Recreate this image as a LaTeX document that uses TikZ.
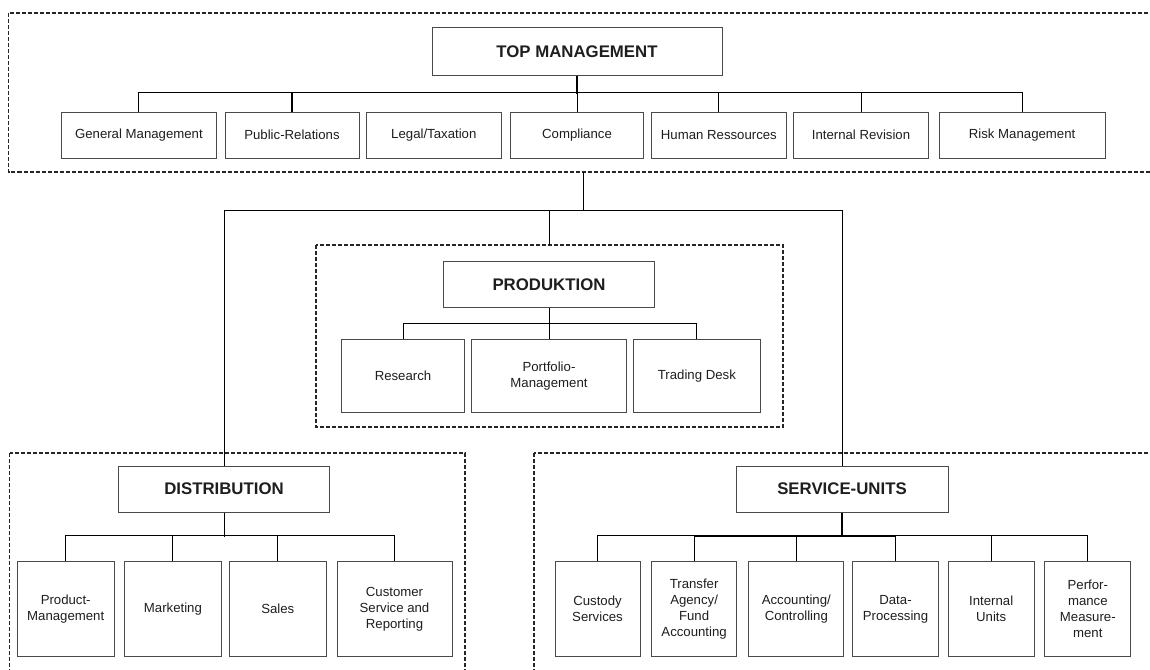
\documentclass[tikz,border=0pt]{standalone}
\usepackage{fontspec}
\setmainfont{Liberation Sans}
\newcommand{\depttext}{\fontsize{13.2}{16}\selectfont}
\newcommand{\deptbold}{\bfseries\fontsize{16.8}{20}\selectfont}
\definecolor{boxline}{HTML}{4A4A4A}
\definecolor{txtgray}{HTML}{1E1E1E}

\begin{document}
\begin{tikzpicture}[x=1pt,y=-1pt,
    dept/.style={draw=boxline,line width=1pt,inner sep=0pt,align=center,
        font=\depttext,text=txtgray},
    depthead/.style={dept,font=\deptbold,minimum height=46pt},
    toprow/.style={dept,minimum height=46pt},
    midrow/.style={dept,minimum height=73.3pt},
    lowrow/.style={dept,minimum height=94.3pt},
    area/.style={draw=black!85,line width=1.2pt,dash pattern=on 4pt off 2pt},
    link/.style={line width=1pt},
    heavylink/.style={line width=2pt}]
\useasboundingbox (0,0) rectangle (1150,669);

% dashed areas
\draw[area] (8.5,13) rectangle (1160,172);
\draw[area] (316,245) rectangle (783,427);
\draw[area] (9.5,453) rectangle (465,680);
\draw[area] (534,453) rectangle (1160,680);

% top management
\node[depthead,minimum width=290pt,minimum height=47pt] (top) at (577,51.5) {TOP MANAGEMENT};
\node[toprow,minimum width=155.7pt] (gm) at (138.9,135) {General Management};
\node[toprow,minimum width=134pt] (pr) at (292,135) {Public-Relations};
\node[toprow,minimum width=135pt] (legal) at (433.8,135) {Legal/Taxation};
\node[toprow,minimum width=133.5pt] (comp) at (577,135) {Compliance};
\node[toprow,minimum width=135pt] (hr) at (718.9,135) {Human Ressources};
\node[toprow,minimum width=134.3pt] (ir) at (861,135) {Internal Revision};
\node[toprow,minimum width=165.8pt] (risk) at (1022.1,135) {Risk Management};

\draw[link] (gm.north) -- ++(0,-19) -| (risk.north);
\draw[heavylink] (pr.north) -- ++(0,-19);
\draw[link] (hr.north) -- ++(0,-19);
\draw[link] (ir.north) -- ++(0,-19);
\draw[link] (top.south) -- (comp.north);
\draw[heavylink] (top.south) -- ++(0,18);

% produktion
\node[depthead,minimum width=211pt] (prod) at (549,284.5) {PRODUKTION};
\node[midrow,minimum width=123.4pt] (res) at (403,376) {Research};
\node[midrow,minimum width=154.4pt] (port) at (549,376) {Portfolio-\\Management};
\node[midrow,minimum width=127pt] (trade) at (696.9,376) {Trading Desk};

\draw[link] (res.north) -- ++(0,-15.5) -| (trade.north);
\draw[link] (prod.south) -- (port.north);

% distribution
\node[depthead,minimum width=211.4pt] (dist) at (224,489) {DISTRIBUTION};
\node[lowrow,minimum width=96.7pt] (prodm) at (65.7,609) {Product-\\Management};
\node[lowrow,minimum width=97.2pt] (mkt) at (172.9,609) {Marketing};
\node[lowrow,minimum width=96.8pt] (sales) at (277.8,609) {Sales};
\node[lowrow,minimum width=115pt] (cust) at (394.5,609) {Customer\\Service and\\Reporting};

\draw[link] (prodm.north) -- ++(0,-25.5) -| (cust.north);
\draw[link] (mkt.north) -- ++(0,-25.5);
\draw[link] (sales.north) -- ++(0,-25.5);
\draw[link] (dist.south) -- ++(0,24.3);

% service units
\node[depthead,minimum width=212pt] (su) at (842,489) {SERVICE-UNITS};
\node[lowrow,minimum width=85pt] (csv) at (597.5,609) {Custody\\Services};
\node[lowrow,minimum width=84.6pt] (ta) at (694.1,609) {Transfer\\Agency/\\Fund\\Accounting};
\node[lowrow,minimum width=95.3pt] (acc) at (796.3,609) {Accounting/\\Controlling};
\node[lowrow,minimum width=85.6pt] (dp) at (895.5,609) {Data-\\Processing};
\node[lowrow,minimum width=85.7pt] (iu) at (991.2,609) {Internal\\Units};
\node[lowrow,minimum width=85.9pt] (perf) at (1087.8,609) {Perfor-\\mance\\Measure-\\ment};

\draw[link] (csv.north) -- ++(0,-25.5) -| (perf.north);
\draw[link] (ta.north) -- ++(0,-25.5);
\draw[link] (acc.north) -- ++(0,-25.5);
\draw[link] (dp.north) -- ++(0,-25.5);
\draw[link] (iu.north) -- ++(0,-25.5);
\draw[heavylink] ([yshift=25.5pt]ta.north) -- ([yshift=25.5pt]dp.north);
\draw[heavylink] (su.south) -- ++(0,24.3);

% links between the areas
\coordinate (tgout) at (583.7,172);
\draw[link] (tgout) -- ++(0,38.7) coordinate (hub);
\draw[link] (dist.north) |- (hub) -| (su.north);
\draw[link] (prod.north |- hub) -- ++(0,34.3);
\end{tikzpicture}
\end{document}
